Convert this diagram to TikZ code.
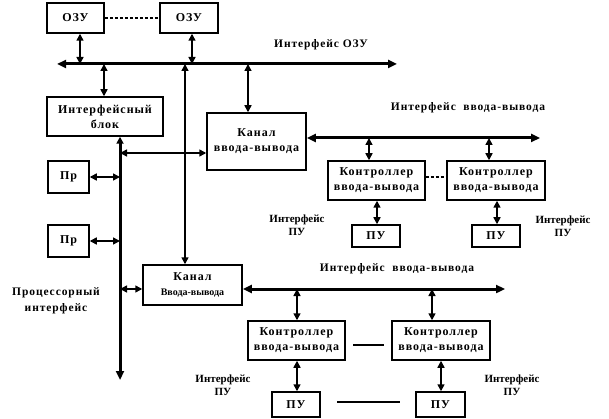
\documentclass[tikz,border=0pt]{standalone}
\usepackage{fontspec}
\setmainfont{Liberation Serif}
\newfontfamily\spfont[LetterSpace=8]{Liberation Serif}
\usetikzlibrary{arrows.meta}
\begin{document}
\begin{tikzpicture}[x=1pt,y=-1pt,
  box/.style={draw,line width=1.5pt,inner sep=0pt,align=center,
    font=\spfont\bfseries\fontsize{12}{15}\selectfont},
  lbl/.style={inner sep=0pt,align=center,font=\spfont\bfseries\fontsize{11.5}{16}\selectfont},
  small/.style={inner sep=0pt,align=center,font=\bfseries\fontsize{11}{12.5}\selectfont},
  arr/.style={line width=1.5pt,{Triangle[length=7pt,width=7pt]}-{Triangle[length=7pt,width=7pt]}},
  bus/.style={line width=3pt,{Triangle[length=9pt,width=8pt]}-{Triangle[length=9pt,width=8pt]}},
  plain/.style={line width=1.5pt}]
\useasboundingbox (0,0) rectangle (609,419);
% boxes
\node[box,minimum width=57,minimum height=30] (ozu1) at (75.5,18) {ОЗУ};
\node[box,minimum width=58,minimum height=30] (ozu2) at (189,18) {ОЗУ};
\node[box,minimum width=116,minimum height=39] (ib) at (105,116.5) {Интерфейсный\\блок};
\node[box,minimum width=99,minimum height=57] (k1) at (256.5,141.5) {Канал\\ввода-вывода};
\node[box,minimum width=41,minimum height=32] (pr1) at (68.5,177) {Пр};
\node[box,minimum width=41,minimum height=32] (pr2) at (68.5,241) {Пр};
\node[box,minimum width=99,minimum height=40] (k2) at (192.5,285) {Канал\\{\fontspec{Liberation Serif}[LetterSpace=0]\bfseries\fontsize{10}{12}\selectfont Ввода-вывода}};
\node[box,minimum width=97,minimum height=39] (uc1) at (376.5,180.5) {Контроллер\\ввода-вывода};
\node[box,minimum width=98,minimum height=39] (uc2) at (496,180.5) {Контроллер\\ввода-вывода};
\node[box,minimum width=48,minimum height=22] (upu1) at (376,236) {ПУ};
\node[box,minimum width=48,minimum height=22] (upu2) at (496,236) {ПУ};
\node[box,minimum width=97,minimum height=39] (lc1) at (296.5,340.5) {Контроллер\\ввода-вывода};
\node[box,minimum width=98,minimum height=39] (lc2) at (441,340.5) {Контроллер\\ввода-вывода};
\node[box,minimum width=48,minimum height=25] (lpu1) at (296,404.5) {ПУ};
\node[box,minimum width=49,minimum height=25] (lpu2) at (440.5,404.5) {ПУ};
% labels
\node[lbl] (lozu) at (321,45) {Интерфейс ОЗУ};
\node[lbl] (lio1) at (468,108) {Интерфейс\ \ ввода-вывода};
\node[lbl] (lio2) at (397,269) {Интерфейс\ \ ввода-вывода};
\node[lbl] (lproc) at (56,301) {Процессорный\\интерфейс};
\node[small] (lpu-a) at (297,225) {Интерфейс\\ПУ};
\node[small] (lpu-b) at (563,226) {Интерфейс\\ПУ};
\node[small] (lpu-c) at (223,385) {Интерфейс\\ПУ};
\node[small] (lpu-d) at (512,385) {Интерфейс\\ПУ};
% bus coordinates
\coordinate (ozuL) at (57,64);
\coordinate (ozuR) at (397,64);
\coordinate (io1R) at (540,138);
\coordinate (io2R) at (505,289);
\coordinate (procB) at (120,380);
% buses
\draw[bus] (ozuL) -- (ozuR);
\draw[bus] (k1.east |- io1R) -- (io1R);
\draw[bus] (k2.east |- io2R) -- (io2R);
\draw[line width=3pt,{Triangle[length=7pt,width=7pt]}-{Triangle[length=9pt,width=8pt]}] (ib.south -| procB) -- (procB);
% dashed / plain links
\draw[plain,dash pattern=on 3pt off 2pt] (ozu1.east) -- (ozu2.west);
\draw[plain,dash pattern=on 3pt off 2pt] (uc1.east |- 0,177) -- (uc2.west |- 0,177);
\coordinate (lcA) at (353,345);
\coordinate (lcB) at (384,345);
\draw[plain] (lcA) -- (lcB);
\coordinate (lpA) at (337,402);
\coordinate (lpB) at (400,402);
\draw[plain] (lpA) -- (lpB);
% arrows
\draw[arr] (ozu1.south -| 80,0) -- (80,64);
\draw[arr] (ozu2.south -| 192,0) -- (192,64);
\draw[arr] (104,64) -- (ib.north -| 104,0);
\draw[arr] (185,64) -- (k2.north -| 185,0);
\draw[arr] (248,64) -- (k1.north -| 248,0);
\draw[arr] (120,153) -- (k1.west |- 0,153);
\draw[arr] (pr1.east) -- (120,177);
\draw[arr] (pr2.east) -- (120,241);
\draw[arr] (120,289) -- (k2.west |- 0,289);
\draw[arr] (369,138) -- (uc1.north -| 369,0);
\draw[arr] (489,138) -- (uc2.north -| 489,0);
\draw[arr] (uc1.south -| 377,0) -- (upu1.north -| 377,0);
\draw[arr] (uc2.south -| 497,0) -- (upu2.north -| 497,0);
\draw[arr] (297,289) -- (lc1.north -| 297,0);
\draw[arr] (432,289) -- (lc2.north -| 432,0);
\draw[arr] (lc1.south -| 297,0) -- (lpu1.north -| 297,0);
\draw[arr] (lc2.south -| 441,0) -- (lpu2.north -| 441,0);
\end{tikzpicture}
\end{document}
